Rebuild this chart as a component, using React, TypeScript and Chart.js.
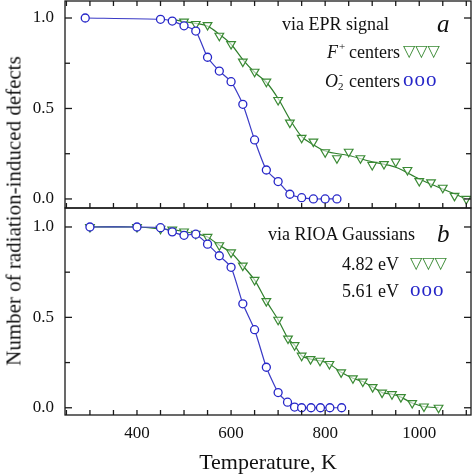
import React, { useEffect, useRef } from 'react';
import { Chart, registerables } from 'chart.js';

Chart.register(...registerables);

// ---- data ----
const xTicks = [400, 600, 800, 1000];
const yTicks = [0, 0.5, 1.0];

// panel a: via EPR signal
const tempsO2 = [290, 450, 475, 500, 525, 550, 575, 600, 625, 650, 675, 700, 725, 750, 775, 800, 825];
const valsO2 = [1.0, 0.993, 0.983, 0.957, 0.928, 0.783, 0.707, 0.648, 0.523, 0.326, 0.16, 0.096, 0.026, 0.007, 0.0, 0.0, 0.0];

const tempsF = [500, 525, 550, 575, 600, 625, 650, 675, 700, 725, 750, 775, 800, 825, 850, 875, 900, 925, 950, 975, 1000, 1025, 1050, 1075, 1100];
const valsF = [0.98, 0.967, 0.961, 0.902, 0.856, 0.759, 0.703, 0.648, 0.547, 0.422, 0.338, 0.317, 0.258, 0.225, 0.261, 0.225, 0.188, 0.193, 0.206, 0.16, 0.099, 0.092, 0.062, 0.017, 0.0];

const tempsFit = [480, 500, 525, 550, 575, 600, 625, 650, 675, 700, 725, 750, 775, 800, 850, 900, 950, 1000, 1050, 1100];
const valsFit = [0.99, 0.98, 0.97, 0.955, 0.91, 0.855, 0.77, 0.7, 0.645, 0.555, 0.44, 0.345, 0.3, 0.265, 0.24, 0.205, 0.175, 0.11, 0.055, 0.0];

// panel b: via RIOA Gaussians
const temps561 = [300, 400, 450, 475, 500, 525, 550, 575, 600, 625, 650, 675, 700, 720, 735, 750, 770, 790, 810, 835];
const vals561 = [1.0, 1.0, 0.996, 0.973, 0.954, 0.96, 0.905, 0.841, 0.777, 0.575, 0.432, 0.224, 0.084, 0.031, 0.004, 0.0, 0.0, 0.0, 0.0, 0.0];

const temps482 = [300, 400, 450, 475, 500, 525, 550, 575, 600, 625, 650, 675, 700, 721, 735, 750, 769, 789, 809, 834, 859, 880, 901, 921, 942, 961, 985, 1010, 1041];
const vals482 = [1.0, 1.0, 0.99, 0.985, 0.975, 0.962, 0.945, 0.899, 0.859, 0.786, 0.707, 0.59, 0.487, 0.383, 0.346, 0.288, 0.269, 0.26, 0.242, 0.196, 0.163, 0.145, 0.114, 0.084, 0.075, 0.059, 0.026, 0.007, 0.0];

const xMinorStep = 50;
const yMinorStep = 0.25;

const GREEN = '#3a8a34';
const GREEN_LINE = '#2f7f2c';
const BLUE = '#2626c8';
const BLUE_LINE = '#3a3ac6';
const SERIF = '"Liberation Serif", "DejaVu Serif", serif';

const toXY = (xs: number[], ys: number[]) => xs.map((x, i) => ({ x, y: ys[i] }));

const framePlugin = {
  id: 'panelFrame',
  afterDatasetsDraw(chart: any) {
    const ctx = chart.ctx;
    const xs = chart.scales.x;
    const panels = [chart.scales.yTop, chart.scales.yBot];
    const left = xs.left;
    const right = xs.right;
    ctx.save();
    ctx.strokeStyle = '#1a1a1a';
    ctx.lineWidth = 1.3;
    const seg = (x1: number, y1: number, x2: number, y2: number) => {
      ctx.beginPath();
      ctx.moveTo(x1, y1);
      ctx.lineTo(x2, y2);
      ctx.stroke();
    };
    panels.forEach((ys: any, idx: number) => {
      const top = ys.top;
      const bottom = ys.bottom;
      ctx.strokeRect(left, top, right - left, bottom - top);
      const x0 = Math.ceil(xs.min / xMinorStep) * xMinorStep;
      for (let v = x0; v <= xs.max; v += xMinorStep) {
        const px = xs.getPixelForValue(v);
        if (idx === 0) seg(px, top, px, top + 5);
        seg(px, bottom, px, bottom - 5);
      }
      for (let k = 0; k * yMinorStep <= 1.0001; k++) {
        const v = k * yMinorStep;
        const py = ys.getPixelForValue(v);
        const len = k % 2 === 0 ? 7 : 5;
        seg(left, py, left + len, py);
        seg(right, py, right - len, py);
      }
    });
    ctx.restore();
  },
};

const tickFont = { family: SERIF, size: 17 };

function yAxis(min: number, max: number) {
  return {
    type: 'linear' as const,
    position: 'left' as const,
    stack: 'panels',
    stackWeight: 1,
    min,
    max,
    afterBuildTicks: (s: any) => {
      s.ticks = yTicks.map((v) => ({ value: v }));
    },
    afterFit: (s: any) => {
      s.width = 65;
      s.paddingTop = 0;
      s.paddingBottom = 0;
    },
    ticks: {
      font: tickFont,
      color: '#111',
      padding: 11,
      callback: (v: any) => Number(v).toFixed(1),
    },
    grid: { display: false, drawTicks: false },
    border: { display: false },
  };
}

function ChartCanvas() {
  const ref = useRef<HTMLCanvasElement | null>(null);
  useEffect(() => {
    if (!ref.current) return;
    const chart = new Chart(ref.current, {
      type: 'line',
      data: {
        datasets: [
          {
            label: 'O2- centers',
            data: toXY(tempsO2, valsO2),
            yAxisID: 'yTop',
            borderColor: BLUE_LINE,
            borderWidth: 1.2,
            pointStyle: 'circle',
            pointRadius: 4,
            pointBorderWidth: 1.3,
            pointBorderColor: BLUE,
            pointBackgroundColor: '#fff',
            tension: 0.2,
          },
          {
            label: 'F+ centers',
            data: toXY(tempsF, valsF),
            yAxisID: 'yTop',
            showLine: false,
            borderColor: GREEN,
            pointStyle: 'triangle',
            rotation: 180,
            pointRadius: 5,
            pointBorderWidth: 1.2,
            pointBorderColor: GREEN,
            pointBackgroundColor: 'rgba(255,255,255,0.6)',
          },
          {
            label: 'F+ fit',
            data: toXY(tempsFit, valsFit),
            yAxisID: 'yTop',
            borderColor: GREEN_LINE,
            borderWidth: 1.2,
            pointRadius: 0,
            cubicInterpolationMode: 'monotone',
          },
          {
            label: '5.61 eV',
            data: toXY(temps561, vals561),
            yAxisID: 'yBot',
            borderColor: BLUE_LINE,
            borderWidth: 1.2,
            pointStyle: 'circle',
            pointRadius: 4,
            pointBorderWidth: 1.3,
            pointBorderColor: BLUE,
            pointBackgroundColor: '#fff',
            tension: 0.2,
          },
          {
            label: '4.82 eV',
            data: toXY(temps482, vals482),
            yAxisID: 'yBot',
            borderColor: GREEN_LINE,
            borderWidth: 1.2,
            pointStyle: 'triangle',
            rotation: 180,
            pointRadius: 5,
            pointBorderWidth: 1.2,
            pointBorderColor: GREEN,
            pointBackgroundColor: 'rgba(255,255,255,0.6)',
            tension: 0.2,
          },
        ],
      },
      options: {
        animation: false,
        responsive: false,
        events: [],
        layout: { autoPadding: false, padding: { top: 1, right: 3, left: 0, bottom: 0 } },
        plugins: { legend: { display: false }, tooltip: { enabled: false } },
        scales: {
          x: {
            type: 'linear',
            position: 'bottom',
            min: 247,
            max: 1110,
            afterBuildTicks: (s: any) => {
              s.ticks = xTicks.map((v) => ({ value: v }));
            },
            afterFit: (s: any) => {
              s.height = 59;
              s.paddingLeft = 0;
              s.paddingRight = 0;
            },
            ticks: {
              font: tickFont,
              color: '#111',
              padding: 8,
              maxRotation: 0,
              callback: (v: any) => String(v),
            },
            grid: { display: false, drawTicks: false },
            border: { display: false },
            title: {
              display: true,
              text: 'Temperature, K',
              font: { family: SERIF, size: 22, lineHeight: 1 },
              color: '#111',
              padding: 0,
            },
          },
          // first axis in a stack is placed at the bottom
          yBot: yAxis(-0.04, 1.105),
          yTop: yAxis(-0.05, 1.094),
        },
      },
      plugins: [framePlugin],
    } as any);
    return () => chart.destroy();
  }, []);
  return <canvas ref={ref} width={474} height={474} style={{ display: 'block' }} />;
}

const abs = (left: number, top: number, size: number, extra: any = {}) => ({
  position: 'absolute' as const,
  left,
  top,
  fontSize: size,
  lineHeight: 1,
  whiteSpace: 'nowrap' as const,
  ...extra,
});

export default function App() {
  return (
    <div
      style={{
        position: 'fixed',
        left: 0,
        top: 0,
        width: 474,
        height: 474,
        background: '#fff',
        fontFamily: SERIF,
        color: '#111',
        overflow: 'hidden',
      }}
    >
      <ChartCanvas />
      <div
        style={{
          position: 'absolute',
          left: 14,
          top: 211,
          transform: 'translate(-50%, -50%) rotate(-90deg)',
          fontSize: 21,
          lineHeight: 1,
          whiteSpace: 'nowrap',
        }}
      >
        Number of radiation-induced defects
      </div>

      {/* panel a legend */}
      <div style={abs(282, 15, 18)}>via EPR signal</div>
      <div style={abs(437, 11, 25, { fontStyle: 'italic' })}>a</div>
      <div style={abs(327, 43, 18)}>
        <i>F</i>
        <span style={{ display: 'inline-block', width: 11, position: 'relative' }}>
          <span style={{ position: 'absolute', left: 1, top: -2, fontSize: 11 }}>+</span>
          {'\u00a0'}
        </span>
        centers
      </div>
      <div style={abs(403, 43, 16, { color: GREEN, fontFamily: '"DejaVu Sans", sans-serif' })}>▽▽▽</div>
      <div style={abs(325, 72, 18)}>
        <i>O</i>
        <span style={{ display: 'inline-block', width: 11, position: 'relative' }}>
          <span style={{ position: 'absolute', left: 1, top: -3, fontSize: 11 }}>-</span>
          <span style={{ position: 'absolute', left: 0, top: 9, fontSize: 11 }}>2</span>
          {'\u00a0'}
        </span>
        centers
      </div>
      <div style={abs(403, 69, 21, { color: BLUE, letterSpacing: 1 })}>ooo</div>

      {/* panel b legend */}
      <div style={abs(268, 225, 18)}>via RIOA Gaussians</div>
      <div style={abs(437, 221, 25, { fontStyle: 'italic' })}>b</div>
      <div style={abs(342, 255, 18)}>4.82 eV</div>
      <div style={abs(410, 255, 16, { color: GREEN, fontFamily: '"DejaVu Sans", sans-serif' })}>▽▽▽</div>
      <div style={abs(342, 282, 18)}>5.61 eV</div>
      <div style={abs(410, 279, 21, { color: BLUE, letterSpacing: 1 })}>ooo</div>
    </div>
  );
}
